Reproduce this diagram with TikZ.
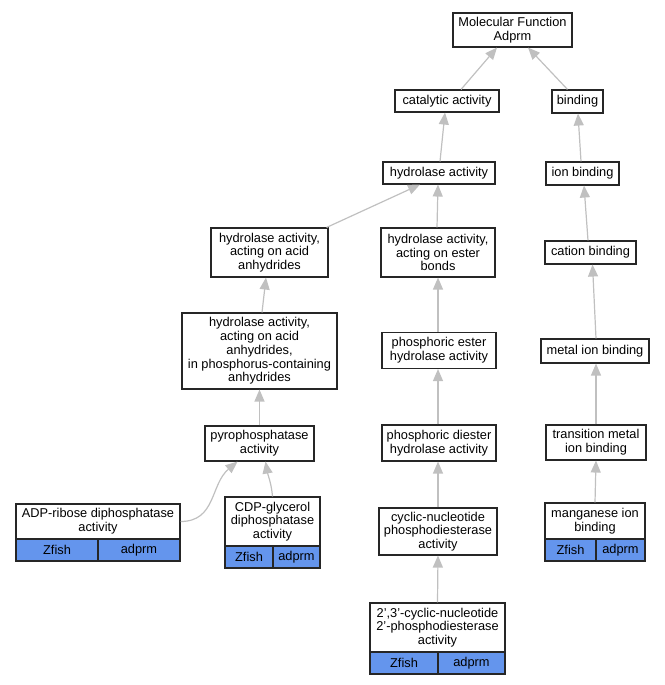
\documentclass[tikz,border=0pt]{standalone}
\usepackage{fontspec}
\setmainfont{Liberation Sans}
\usetikzlibrary{arrows.meta}
\definecolor{edgegray}{HTML}{C0C0C0}
\definecolor{cellblue}{HTML}{6495ED}
\begin{document}
\begin{tikzpicture}[x=1pt,y=-1pt,
  box/.style={draw=black!85, line width=1.1pt, fill=white, inner sep=0pt, align=center,
    font=\fontsize{12.8}{13.8}\selectfont},
  cellbox/.style={box, fill=cellblue, minimum height=22pt},
  edge/.style={draw=edgegray, line width=1.2pt, -{Triangle[length=12pt,width=10pt]}}
]
\useasboundingbox (0,0) rectangle (664,685);

\node[box, minimum width=119pt, minimum height=34pt] (mf) at (512.5,30) {Molecular Function\\Adprm};
\node[box, minimum width=104pt, minimum height=22pt] (cat) at (447,101) {catalytic activity};
\node[box, minimum width=51pt, minimum height=23pt] (bind) at (577.5,101.5) {binding};
\node[box, minimum width=112pt, minimum height=22pt] (hyd) at (439,173) {hydrolase activity};
\node[box, minimum width=73pt, minimum height=23pt] (ionb) at (582.5,173.5) {ion binding};
\node[box, minimum width=117pt, minimum height=49pt] (anh) at (269.5,252.5) {hydrolase activity,\\acting on acid\\anhydrides};
\node[box, minimum width=114pt, minimum height=49pt] (ester) at (438,252.5) {hydrolase activity,\\acting on ester\\bonds};
\node[box, minimum width=91pt, minimum height=23pt] (cation) at (590.5,252.5) {cation binding};
\node[box, minimum width=155pt, minimum height=76pt] (phos) at (259.5,351) {hydrolase activity,\\acting on acid\\anhydrides,\\in phosphorus-containing\\anhydrides};
\node[box, minimum width=114pt, minimum height=36pt] (pest) at (439,350.5) {phosphoric ester\\hydrolase activity};
\node[box, minimum width=108pt, minimum height=24pt] (metal) at (595,351) {metal ion binding};
\node[box, minimum width=109pt, minimum height=35pt] (pyro) at (259.5,443.5) {pyrophosphatase\\activity};
\node[box, minimum width=114pt, minimum height=36pt] (pdiest) at (439,443) {phosphoric diester\\hydrolase activity};
\node[box, minimum width=100pt, minimum height=35pt] (trans) at (596,442.5) {transition metal\\ion binding};
\node[box, minimum width=118pt, minimum height=47pt] (cyc) at (438,531.5) {cyclic-nucleotide\\phosphodiesterase\\activity};

% tables
\node[box, minimum width=164pt, minimum height=35pt] (adp) at (98,521.5) {ADP-ribose diphosphatase\\activity};
\node[cellbox, minimum width=82pt] (adpz) at (57,550) {Zfish};
\node[cellbox, minimum width=82pt] (adpa) at (139,550) {adprm};

\node[box, minimum width=95pt, minimum height=49pt] (cdp) at (272.5,521.5) {CDP-glycerol\\diphosphatase\\activity};
\node[cellbox, minimum width=48pt] (cdpz) at (249,557) {Zfish};
\node[cellbox, minimum width=47pt] (cdpa) at (296.5,557) {adprm};

\node[box, minimum width=135pt, minimum height=49pt] (two) at (437.5,627.5) {2',3'-cyclic-nucleotide\\2'-phosphodiesterase\\activity};
\node[cellbox, minimum width=68pt] (twoz) at (404,663) {Zfish};
\node[cellbox, minimum width=67pt] (twoa) at (471.5,663) {adprm};

\node[box, minimum width=100pt, minimum height=36pt] (mang) at (595,521) {manganese ion\\binding};
\node[cellbox, minimum width=51pt] (mangz) at (570.5,550) {Zfish};
\node[cellbox, minimum width=49pt] (manga) at (620.5,550) {adprm};

% edges
\draw[edge] ([xshift=14pt]cat.north) -- ([xshift=-15.5pt]mf.south);
\draw[edge] ([xshift=-10pt]bind.north) -- ([xshift=15.5pt]mf.south);
\draw[edge] ([xshift=1pt]hyd.north) -- ([xshift=-2pt]cat.south);
\draw[edge] ([xshift=-1.5pt]ionb.north) -- ([xshift=0.5pt]bind.south);
\draw[edge] ([xshift=-2pt]anh.north east) -- ([xshift=-19pt]hyd.south);
\draw[edge] ([xshift=-1pt]ester.north) -- ([xshift=-1pt]hyd.south);
\draw[edge] ([xshift=-2.5pt]cation.north) -- ([xshift=1.5pt]ionb.south);
\draw[edge] ([xshift=2.5pt]phos.north) -- ([xshift=-3.5pt]anh.south);
\draw[edge] ([xshift=-1pt]pest.north) -- (ester.south);
\draw[edge] ([xshift=1pt]metal.north) -- ([xshift=2pt]cation.south);
\draw[edge] (pyro.north) -- (phos.south);
\draw[edge] ([xshift=-1pt]pdiest.north) -- ([xshift=-1pt]pest.south);
\draw[edge] (trans.north) -- ([xshift=1pt]metal.south);
\draw[edge] (adp.east) to[out=0,in=-140,looseness=1.1] ([xshift=-22pt]pyro.south);
\draw[edge] (cdp.north) to[out=95,in=-80] ([xshift=6pt]pyro.south);
\draw[edge] (cyc.north) -- ([xshift=-1pt]pdiest.south);
\draw[edge] (two.north) -- (cyc.south);
\draw[edge] (mang.north) -- (trans.south);
\end{tikzpicture}
\end{document}
